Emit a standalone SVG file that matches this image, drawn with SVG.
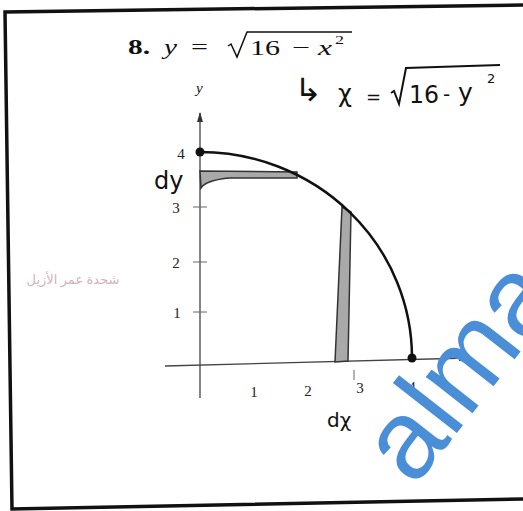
<svg xmlns="http://www.w3.org/2000/svg" width="523" height="511" viewBox="0 0 523 511">
<style>
.tm{font-family:"Liberation Serif","Times New Roman",serif;fill:#111}
.hw{font-family:"DejaVu Sans","Liberation Sans",sans-serif;fill:#111}
.tick{font-family:"Liberation Serif",serif;font-size:15px;fill:#222;text-anchor:middle}
.ax{stroke:#444;stroke-width:1.3;fill:none}
.strip{fill:#a9a9a9;stroke:#333;stroke-width:1.5}
</style>
<defs>
<marker id="ah" markerWidth="10" markerHeight="8" refX="9" refY="4" orient="auto" markerUnits="userSpaceOnUse">
<path d="M0,1 L10,4 L0,7 Z" fill="#333"/>
</marker>
</defs>
<rect width="523" height="511" fill="#fff"/>
<g id="frame" fill="none" stroke="#111" stroke-width="3.5">
<path d="M523,5 L5,12 L12,509 L523,499"/>
</g>
<g id="title">
<text class="tm" x="128" y="54" font-size="20" font-weight="bold" textLength="22" lengthAdjust="spacingAndGlyphs">8.</text>
<text class="tm" x="164" y="54" font-size="20" font-style="italic" textLength="13" lengthAdjust="spacingAndGlyphs">y</text>
<text class="tm" x="191" y="54" font-size="20" textLength="17" lengthAdjust="spacingAndGlyphs">=</text>
<path d="M228,46 L231,44 L237,57 L247,32 L352,32" fill="none" stroke="#111" stroke-width="1.5"/>
<text class="tm" x="250" y="55" font-size="20" textLength="30" lengthAdjust="spacingAndGlyphs">16</text>
<text class="tm" x="292" y="54" font-size="20" textLength="18" lengthAdjust="spacingAndGlyphs">−</text>
<text class="tm" x="318" y="55" font-size="20" font-style="italic" textLength="14" lengthAdjust="spacingAndGlyphs">x</text>
<text class="tm" x="335" y="44" font-size="12" textLength="9" lengthAdjust="spacingAndGlyphs">2</text>
</g>
<g id="note">
<text class="hw" x="294" y="101" font-size="32" textLength="28" lengthAdjust="spacingAndGlyphs">↳</text>
<text class="hw" x="338" y="102" font-size="24">χ</text>
<text class="hw" x="366" y="103" font-size="18">=</text>
<path d="M391,93 L394,91 L399,104 L406,68 L500,65" fill="none" stroke="#111" stroke-width="2"/>
<text class="hw" x="409" y="103" font-size="25" textLength="30" lengthAdjust="spacingAndGlyphs">16</text>
<text class="hw" x="443" y="101" font-size="20">-</text>
<text class="hw" x="458" y="101" font-size="25">y</text>
<text class="hw" x="487" y="83" font-size="13">2</text>
</g>
<g id="axes">
<line class="ax" x1="200" y1="398" x2="200" y2="113" marker-end="url(#ah)"/>
<line class="ax" x1="165" y1="366" x2="468" y2="358" marker-end="url(#ah)"/>
<g stroke="#666" stroke-width="1">
<line x1="193" y1="207" x2="207" y2="207"/>
<line x1="193" y1="262" x2="207" y2="262"/>
<line x1="193" y1="312" x2="207" y2="312"/>
<line x1="354" y1="370" x2="354" y2="380"/>
</g>
<text class="tm" x="196" y="93" font-size="15" font-style="italic">y</text>
<text class="tick" x="181" y="159">4</text>
<text class="tick" x="176" y="213">3</text>
<text class="tick" x="176" y="268">2</text>
<text class="tick" x="177" y="318">1</text>
<text class="tick" x="254" y="397">1</text>
<text class="tick" x="308" y="396">2</text>
<text class="tick" x="360" y="393">3</text>
<text class="tick" x="412" y="392">4</text>
</g>
<g id="strips">
<path class="strip" d="M200,171 L297,172 L297,178 L230,178 Q206,180 201,188 Z"/>
<path class="strip" d="M335,362 L342,207 L351,212 L348,361 Z"/>
</g>
<g id="curve">
<path d="M200,152 A212,206 0 0 1 412,358" fill="none" stroke="#111" stroke-width="2.5"/>
<circle cx="200" cy="152" r="4.5" fill="#111"/>
<circle cx="412" cy="358" r="4.5" fill="#111"/>
</g>
<g id="labels">
<text class="hw" x="154" y="189" font-size="24">dy</text>
<text class="hw" x="327" y="427" font-size="20">dχ</text>
<text x="73" y="284" font-family="'Noto Sans','DejaVu Sans',sans-serif" font-size="13" fill="#d2b4ba" text-anchor="middle">شحدة عمر الأزيل</text>
</g>
<g id="watermark">
<text x="414" y="488" transform="rotate(-52 414 488)" font-family="'Liberation Sans',Arial,sans-serif" font-size="112" fill="#4a8ed8">alma</text>
</g>
</svg>
